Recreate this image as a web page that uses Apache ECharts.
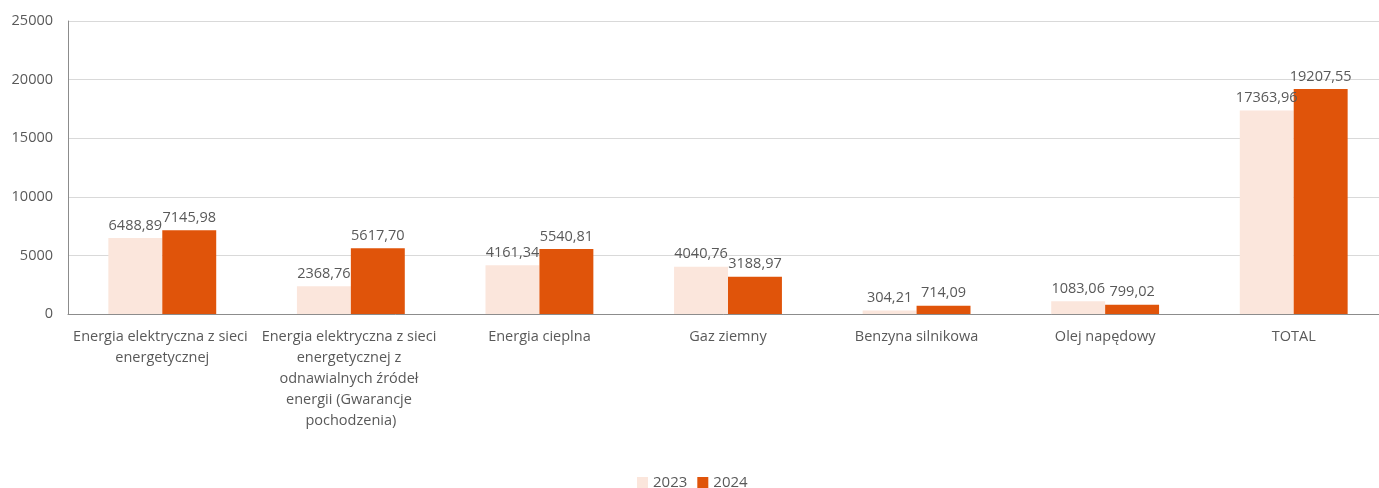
<!DOCTYPE html>
<html>
<head>
<meta charset="utf-8">
<script src="https://cdn.jsdelivr.net/npm/echarts@6/dist/echarts.min.js"></script>
<style>
  html, body { margin: 0; padding: 0; background: #fff; }
  #chart { width: 1379px; height: 488px; }
</style>
</head>
<body>
<div id="chart"></div>
<script>
// kategorie (oś X)
var categories = [
  "Energia elektryczna z sieci energetycznej",
  "Energia elektryczna z sieci energetycznej z odnawialnych źródeł energii (Gwarancje pochodzenia)",
  "Energia cieplna",
  "Gaz ziemny",
  "Benzyna silnikowa",
  "Olej napędowy",
  "TOTAL"
];
var seriesNames = ["2023", "2024"];
var values2023 = [6488.89, 2368.76, 4161.34, 4040.76, 304.21, 1083.06, 17363.96];
var values2024 = [7145.98, 5617.70, 5540.81, 3188.97, 714.09, 799.02, 19207.55];
var yTicks = [0, 5000, 10000, 15000, 20000, 25000];

var textColor = "#595959";
var font = "'Open Sans', 'Noto Sans', sans-serif";

function fmt(v) {
  return v.toFixed(2).replace(".", ",");
}

var chart = echarts.init(document.getElementById("chart"));
var option = {
  backgroundColor: "#fff",
  animation: false,
  color: ["#FBE6DC", "#E0540A"],
  textStyle: { fontFamily: font },
  grid: {
    left: 68,
    width: 1320,
    top: 21,
    bottom: 174,
    outerBoundsMode: "none",
    containLabel: false
  },
  legend: {
    data: seriesNames,
    bottom: -7,
    left: 632,
    itemWidth: 11,
    itemHeight: 11,
    itemGap: 10,
    icon: "rect",
    textStyle: { color: textColor, fontSize: 15, fontFamily: font }
  },
  xAxis: {
    type: "category",
    data: categories,
    axisTick: { show: false },
    axisLine: { lineStyle: { color: "#8c8c8c", width: 1 } },
    axisLabel: {
      interval: 0,
      margin: 12,
      color: textColor,
      fontSize: 14.5,
      lineHeight: 21,
      width: 182,
      overflow: "break",
      fontFamily: font
    }
  },
  yAxis: {
    type: "value",
    min: yTicks[0],
    max: yTicks[yTicks.length - 1],
    interval: 5000,
    axisLine: { show: true, lineStyle: { color: "#8c8c8c", width: 1 } },
    axisTick: { show: false },
    axisLabel: {
      color: textColor,
      fontSize: 14.5,
      margin: 15,
      fontFamily: font,
      formatter: function (v) { return String(v); }
    },
    splitLine: { lineStyle: { color: "#d9d9d9", width: 1 } }
  },
  series: [
    {
      name: seriesNames[0],
      type: "bar",
      data: values2023,
      barWidth: "28.6%",
      barGap: "0%",
      label: {
        show: true,
        position: "top",
        distance: 5,
        color: textColor,
        fontSize: 14.5,
        fontFamily: font,
        formatter: function (p) { return fmt(p.value); }
      }
    },
    {
      name: seriesNames[1],
      type: "bar",
      data: values2024,
      barWidth: "28.6%",
      barGap: "0%",
      label: {
        show: true,
        position: "top",
        distance: 5,
        color: textColor,
        fontSize: 14.5,
        fontFamily: font,
        formatter: function (p) { return fmt(p.value); }
      }
    }
  ]
};
chart.setOption(option);
</script>
</body>
</html>
